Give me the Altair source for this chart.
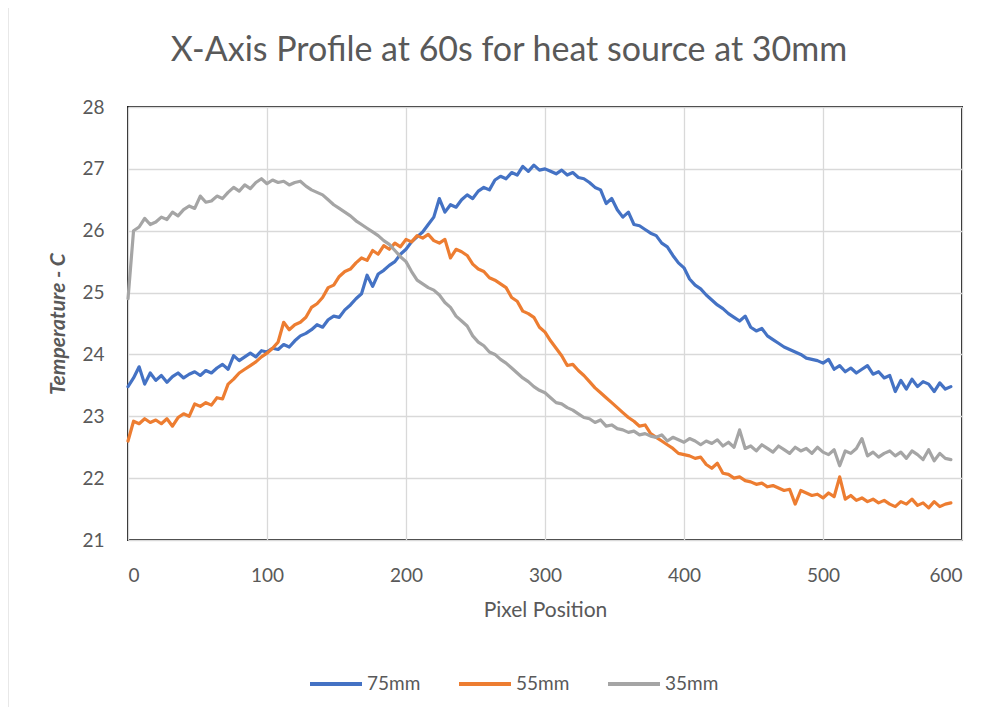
import altair as alt
import pandas as pd

pixel_step = 4
series_names = ["75mm", "55mm", "35mm"]
series_colors = ["#4472C4", "#ED7D31", "#A5A5A5"]

temp_75 = [
    23.48, 23.62, 23.80, 23.52, 23.70, 23.58, 23.66, 23.55, 23.64, 23.70,
    23.62, 23.68, 23.72, 23.66, 23.74, 23.70, 23.78, 23.84, 23.76, 23.98,
    23.90, 23.96, 24.02, 23.96, 24.06, 24.04, 24.10, 24.08, 24.16, 24.12,
    24.22, 24.30, 24.34, 24.40, 24.48, 24.44, 24.56, 24.62, 24.60, 24.72,
    24.80, 24.90, 24.98, 25.28, 25.10, 25.30, 25.36, 25.44, 25.50, 25.62,
    25.70, 25.82, 25.90, 25.98, 26.10, 26.22, 26.52, 26.30, 26.42, 26.38,
    26.50, 26.58, 26.52, 26.64, 26.70, 26.66, 26.82, 26.88, 26.84, 26.94,
    26.90, 27.04, 26.96, 27.06, 26.98, 27.00, 26.96, 26.92, 26.98, 26.90,
    26.94, 26.86, 26.84, 26.78, 26.70, 26.66, 26.44, 26.52, 26.34, 26.22,
    26.30, 26.10, 26.08, 26.02, 25.96, 25.92, 25.80, 25.74, 25.60, 25.48,
    25.40, 25.22, 25.12, 25.06, 24.96, 24.88, 24.80, 24.74, 24.66, 24.60,
    24.54, 24.62, 24.44, 24.38, 24.42, 24.30, 24.24, 24.18, 24.12, 24.08,
    24.04, 24.00, 23.94, 23.92, 23.90, 23.86, 23.92, 23.76, 23.82, 23.72,
    23.78, 23.70, 23.76, 23.82, 23.68, 23.72, 23.62, 23.66, 23.40, 23.58,
    23.44, 23.60, 23.48, 23.56, 23.52, 23.40, 23.54, 23.44, 23.48,
]

temp_55 = [
    22.60, 22.92, 22.88, 22.96, 22.90, 22.94, 22.88, 22.96, 22.84, 22.98,
    23.04, 23.00, 23.20, 23.16, 23.22, 23.18, 23.30, 23.28, 23.52, 23.60,
    23.70, 23.76, 23.82, 23.88, 23.96, 24.02, 24.10, 24.20, 24.52, 24.40,
    24.48, 24.52, 24.60, 24.76, 24.82, 24.92, 25.08, 25.12, 25.26, 25.34,
    25.38, 25.48, 25.56, 25.52, 25.68, 25.62, 25.76, 25.70, 25.80, 25.74,
    25.86, 25.82, 25.92, 25.88, 25.94, 25.84, 25.80, 25.86, 25.56, 25.70,
    25.66, 25.60, 25.46, 25.38, 25.34, 25.24, 25.20, 25.14, 25.08, 24.92,
    24.86, 24.70, 24.66, 24.60, 24.44, 24.36, 24.22, 24.10, 23.98, 23.82,
    23.84, 23.74, 23.66, 23.56, 23.46, 23.38, 23.30, 23.22, 23.14, 23.06,
    22.98, 22.92, 22.84, 22.86, 22.72, 22.66, 22.60, 22.54, 22.48, 22.40,
    22.38, 22.36, 22.32, 22.34, 22.22, 22.16, 22.24, 22.08, 22.06, 22.00,
    22.02, 21.96, 21.94, 21.90, 21.92, 21.86, 21.88, 21.84, 21.80, 21.82,
    21.58, 21.80, 21.76, 21.72, 21.74, 21.68, 21.76, 21.70, 22.02, 21.66,
    21.72, 21.64, 21.68, 21.62, 21.66, 21.60, 21.64, 21.58, 21.54, 21.62,
    21.58, 21.66, 21.56, 21.60, 21.52, 21.62, 21.54, 21.58, 21.60,
]

temp_35 = [
    24.90, 26.00, 26.06, 26.20, 26.10, 26.14, 26.22, 26.18, 26.30, 26.24,
    26.34, 26.40, 26.36, 26.56, 26.46, 26.48, 26.56, 26.52, 26.62, 26.70,
    26.64, 26.74, 26.68, 26.78, 26.84, 26.76, 26.82, 26.78, 26.80, 26.74,
    26.78, 26.80, 26.72, 26.66, 26.62, 26.58, 26.50, 26.42, 26.36, 26.30,
    26.24, 26.16, 26.10, 26.04, 25.98, 25.92, 25.84, 25.78, 25.68, 25.58,
    25.50, 25.34, 25.20, 25.14, 25.08, 25.04, 24.96, 24.84, 24.76, 24.62,
    24.54, 24.46, 24.30, 24.20, 24.14, 24.04, 24.00, 23.92, 23.86, 23.78,
    23.70, 23.62, 23.56, 23.48, 23.42, 23.38, 23.30, 23.22, 23.20, 23.14,
    23.10, 23.04, 22.98, 22.96, 22.90, 22.94, 22.84, 22.86, 22.80, 22.78,
    22.74, 22.76, 22.70, 22.72, 22.68, 22.66, 22.70, 22.60, 22.66, 22.62,
    22.58, 22.64, 22.60, 22.54, 22.60, 22.56, 22.62, 22.52, 22.58, 22.50,
    22.78, 22.48, 22.52, 22.44, 22.54, 22.48, 22.42, 22.52, 22.46, 22.40,
    22.50, 22.44, 22.48, 22.40, 22.50, 22.42, 22.38, 22.46, 22.20, 22.44,
    22.40, 22.48, 22.64, 22.36, 22.42, 22.34, 22.40, 22.44, 22.36, 22.42,
    22.32, 22.44, 22.38, 22.30, 22.46, 22.28, 22.40, 22.32, 22.30,
]

x_ticks = [0, 100, 200, 300, 400, 500, 600]
y_ticks = [21, 22, 23, 24, 25, 26, 27, 28]

rows = []
for name, vals in zip(series_names, [temp_75, temp_55, temp_35]):
    for i, v in enumerate(vals):
        rows.append({"pos": i * pixel_step, "temp": v, "series": name})
df = pd.DataFrame(rows)

FONT = "Lato"
TXT = "#595959"
W, H = 834, 433

lines = alt.Chart(df).mark_line(strokeWidth=3.2, strokeJoin="round", strokeCap="round").encode(
    x=alt.X("pos:Q", scale=alt.Scale(domain=[0, 600], nice=False),
            axis=alt.Axis(values=x_ticks, title="Pixel Position", labelPadding=26,
                          titlePadding=14, grid=True)),
    y=alt.Y("temp:Q", scale=alt.Scale(domain=[21, 28], nice=False, zero=False),
            axis=alt.Axis(values=y_ticks, title="Temperature - C", labelPadding=24,
                          titlePadding=13, titleFontStyle="italic", titleFontWeight="bold")),
    color=alt.Color("series:N", scale=alt.Scale(domain=series_names, range=series_colors),
                    sort=series_names,
                    legend=alt.Legend(title=None, orient="none", legendX=180, legendY=549,
                                      direction="horizontal", symbolType="stroke",
                                      symbolSize=2704, symbolStrokeWidth=4,
                                      labelFontSize=19, labelColor=TXT, labelFont=FONT,
                                      columnPadding=30, labelOffset=3)),
    detail="series:N",
    order=alt.Order("pos:Q"),
)

frame_df = pd.DataFrame({"k": [0]})
outer_left = alt.Chart(frame_df).mark_rule(color="#d9d9d9", strokeWidth=1.2).encode(
    x=alt.value(-120), y=alt.value(-100), y2=alt.value(600))
outer_top = alt.Chart(frame_df).mark_rule(color="#d9d9d9", strokeWidth=1.2).encode(
    x=alt.value(-120), x2=alt.value(870), y=alt.value(-100))

chart = alt.layer(outer_left, outer_top, lines).properties(
    width=W, height=H,
    autosize=alt.AutoSizeParams(type="none"),
    padding={"left": 120, "top": 99, "right": 30, "bottom": 168},
    title=alt.TitleParams("X-Axis Profile at 60s for heat source at 30mm", fontSize=34,
                          font=FONT, color=TXT, fontWeight="normal", offset=0, dx=-36,
                          dy=62, frame="group"),
).configure_view(stroke="#222222", strokeWidth=2).configure_axis(
    labelFont=FONT, titleFont=FONT, labelFontSize=19, titleFontSize=21,
    labelColor=TXT, titleColor=TXT, gridColor="#d9d9d9", gridWidth=1.3,
    domain=False, ticks=False,
).configure_axisY(titleFontStyle="italic", titleFontWeight="bold").configure_axisX(
    titleFontWeight="normal")

chart.save("out.html", embed_options={"renderer": "svg", "actions": False})
